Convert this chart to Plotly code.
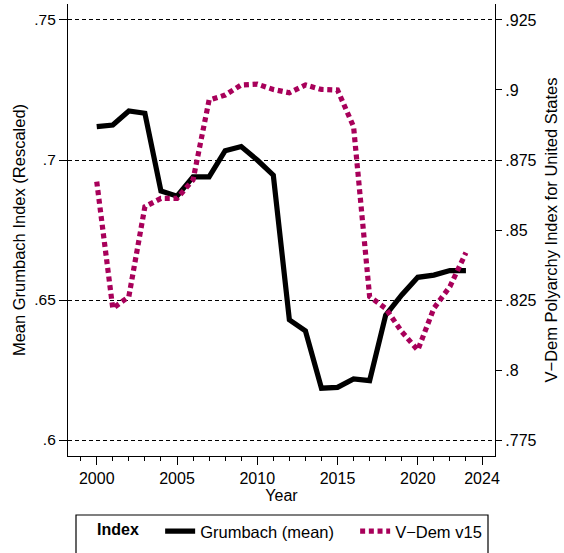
import plotly.graph_objects as go

years = list(range(2000, 2024))
grumbach = [0.7119, 0.7125, 0.7175, 0.7167, 0.6889, 0.6871, 0.6940, 0.6940,
            0.7033, 0.7048, 0.7000, 0.6946, 0.6429, 0.6390, 0.6185, 0.6188,
            0.6218, 0.6212, 0.6446, 0.6518, 0.6581, 0.6589, 0.6605, 0.6605]
vdem = [0.8673, 0.8220, 0.8262, 0.8583, 0.8613, 0.8613, 0.8679, 0.8964,
        0.8982, 0.9018, 0.9021, 0.9002, 0.8990, 0.9018, 0.9002, 0.9000,
        0.8869, 0.8262, 0.8220, 0.8137, 0.8071, 0.8220, 0.8298, 0.8419]

x_ticks = [2000, 2005, 2010, 2015, 2020, 2024]
x_minor = list(range(1999, 2025))
left_ticks = [0.6, 0.65, 0.7, 0.75]
left_labels = [".6", ".65", ".7", ".75"]
right_ticks = [0.775, 0.8, 0.825, 0.85, 0.875, 0.9, 0.925]
right_labels = [".775", ".8", ".825", ".85", ".875", ".9", ".925"]

FONT = "Liberation Sans, Arial, sans-serif"
MAGENTA = "rgb(168,0,90)"

fig = go.Figure()
fig.add_trace(go.Scatter(x=years, y=grumbach, mode="lines", name="Grumbach (mean)",
                         line=dict(color="black", width=5.2), yaxis="y"))
fig.add_trace(go.Scatter(x=years, y=vdem, mode="lines", name="V\u2212Dem v15",
                         line=dict(color=MAGENTA, width=5.2, dash="5px,3.7px"), yaxis="y2"))

fig.update_layout(
    width=564, height=553,
    margin=dict(l=68, r=69, t=4, b=97, autoexpand=False),
    paper_bgcolor="white", plot_bgcolor="white",
    font=dict(family=FONT, size=16, color="black"),
    showlegend=True,
    legend=dict(orientation="h", x=(95 - 68) / 427, xanchor="left",
                y=-0.128, yanchor="top",
                title=dict(text="<b>Index</b>\u00a0\u00a0\u00a0", side="left", font=dict(size=16)),
                font=dict(size=16.5), bgcolor="rgba(0,0,0,0)", borderwidth=0,
                entrywidth=150, entrywidthmode="pixels"),
    xaxis=dict(range=[1998.21, 2024.81], tickmode="array", tickvals=x_ticks,
               ticktext=[str(v) for v in x_ticks],
               ticks="outside", ticklen=8, tickwidth=1, tickcolor="black",
               showline=True, linecolor="black", linewidth=1.2,
               showgrid=False, zeroline=False,
               minor=dict(tickmode="array", tickvals=x_minor, ticks="outside",
                          ticklen=4, tickwidth=1, tickcolor="black", showgrid=False),
               title=dict(text="Year", font=dict(size=16), standoff=2),
               tickfont=dict(size=16)),
    yaxis=dict(range=[0.59429, 0.75571], tickmode="array", tickvals=left_ticks,
               ticktext=left_labels, ticks="outside", ticklen=8, tickwidth=1,
               tickcolor="black", showline=True, linecolor="black", linewidth=1.2,
               showgrid=True, gridcolor="black", gridwidth=1, griddash="4px,3px",
               zeroline=False, tickfont=dict(size=15.5),
               title=dict(text="Mean Grumbach Index (Rescaled)", font=dict(size=16.5), standoff=4)),
    yaxis2=dict(range=[0.76929, 0.93071], overlaying="y", side="right",
                tickmode="array", tickvals=right_ticks, ticktext=right_labels,
                ticks="outside", ticklen=6, tickwidth=1, tickcolor="black",
                showline=True, linecolor="black", linewidth=1.2,
                showgrid=False, zeroline=False, tickfont=dict(size=16),
                title=dict(text="V\u2212Dem Polyarchy Index for United States",
                           font=dict(size=16.5), standoff=9)),
    shapes=[dict(type="rect", xref="paper", yref="paper",
                 x0=(76 - 68) / 427, x1=(488 - 68) / 427,
                 y0=(456 - 570) / 452, y1=(456 - 515) / 452,
                 line=dict(color="black", width=1.2), fillcolor="rgba(0,0,0,0)")],
)

fig.write_html("out.html", config={"displayModeBar": False},
               post_script="document.body.style.margin='0';")
